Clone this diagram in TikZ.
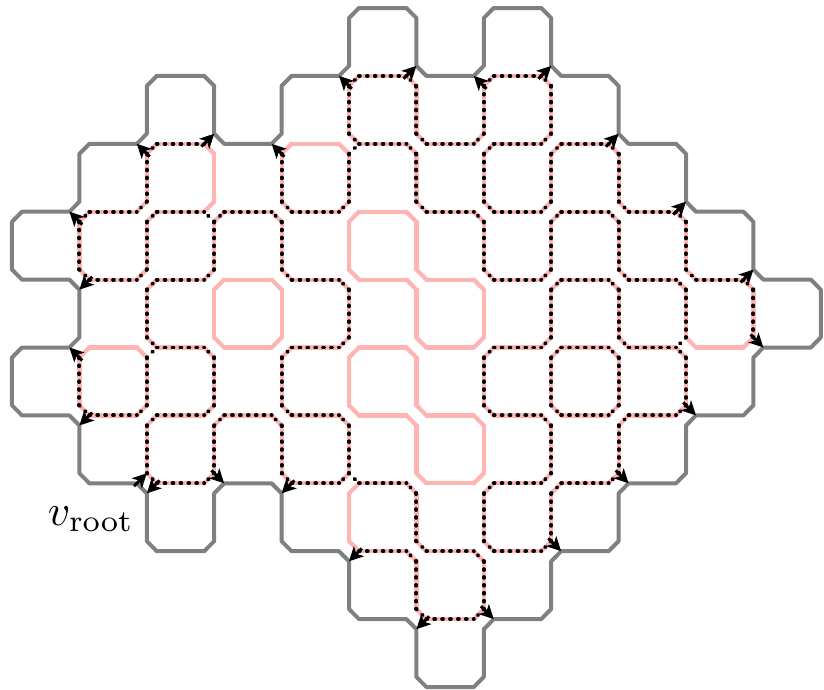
\documentclass[tikz,border=0pt]{standalone}
\usetikzlibrary{arrows.meta,calc}
\definecolor{lpink}{RGB}{255,180,180}
\def\dd{0.148}
\newcommand\hseg[3]{\draw[#3] ({#1+\dd},#2) -- ({#1+1-\dd},#2);}
\newcommand\vseg[3]{\draw[#3] (#1,{#2+\dd}) -- (#1,{#2+1-\dd});}
\newcommand\chamf[5]{\draw[#5] (#1,{#2+(#4)*\dd}) -- ({#1+(#3)*\dd},#2);}
\begin{document}
\begin{tikzpicture}[x=67.4pt,y=-67.9pt,
  pinkline/.style={draw=lpink,line width=4.2pt,line cap=round},
  grayline/.style={draw=gray,line width=4pt,line cap=round,line join=round},
  dotline/.style={draw=black,line width=3.9pt,line cap=round,dash pattern=on 0.8pt off 7.1pt},
  arr/.style={draw=black,line width=3pt,-{Stealth[length=14pt,width=14pt,inset=3.5pt]},shorten <=-4pt}]
\useasboundingbox (-0.17804,-0.11782) rectangle (12.0475,10.0295);

% ---- pink: all interior edges
\foreach \j/\is in {1/{5,7},2/{2,4,5,6,7,8},3/{1,2,3,4,5,6,7,8,9},4/{1,2,3,4,5,6,7,8,9,10},5/{1,2,3,4,5,6,7,8,9,10},6/{1,2,3,4,5,6,7,8,9},7/{2,4,5,6,7,8},8/{5,6,7},9/{6}}
  {\foreach \i in \is {\hseg{\i}{\j}{pinkline}}}
\foreach \j/\is in {1/{5,6,7,8},2/{2,3,4,5,6,7,8,9},3/{1,2,3,4,5,6,7,8,9,10},4/{2,3,4,5,6,7,8,9,10,11},5/{1,2,3,4,5,6,7,8,9,10},6/{2,3,4,5,6,7,8,9},7/{5,6,7,8},8/{6,7}}
  {\foreach \i in \is {\vseg{\i}{\j}{pinkline}}}
% ---- pink: all interior chamfers
\foreach \i/\j/\sx/\sy in {5/1/1/1,6/1/-1/1,7/1/1/1,8/1/-1/1,
 2/2/1/1,3/2/-1/1,4/2/1/1,5/2/1/-1,5/2/-1/1,6/2/1/-1,6/2/-1/1,7/2/-1/-1,7/2/1/1,8/2/-1/-1,8/2/1/1,9/2/-1/1,
 1/3/1/1,2/3/-1/-1,2/3/1/1,3/3/-1/-1,3/3/1/1,4/3/1/-1,4/3/-1/1,5/3/-1/-1,5/3/1/1,6/3/1/-1,6/3/-1/1,7/3/1/-1,7/3/-1/1,8/3/-1/-1,8/3/1/1,9/3/1/-1,9/3/-1/1,10/3/-1/1,
 1/4/1/-1,2/4/-1/-1,2/4/1/1,3/4/-1/-1,3/4/1/1,4/4/1/-1,4/4/-1/1,5/4/1/-1,5/4/-1/1,6/4/1/-1,6/4/-1/1,7/4/1/-1,7/4/-1/1,8/4/-1/-1,8/4/1/1,9/4/1/-1,9/4/-1/1,10/4/1/-1,10/4/-1/1,11/4/-1/1,
 1/5/1/1,2/5/1/-1,2/5/-1/1,3/5/1/-1,3/5/-1/1,4/5/-1/-1,4/5/1/1,5/5/-1/-1,5/5/1/1,6/5/1/-1,6/5/-1/1,7/5/-1/-1,7/5/1/1,8/5/-1/-1,8/5/1/1,9/5/1/-1,9/5/-1/1,10/5/1/-1,10/5/-1/1,11/5/-1/-1,
 1/6/1/-1,2/6/-1/-1,2/6/1/1,3/6/-1/-1,3/6/1/1,4/6/1/-1,4/6/-1/1,5/6/1/-1,5/6/-1/1,6/6/1/-1,6/6/-1/1,7/6/1/-1,7/6/-1/1,8/6/1/-1,8/6/-1/1,9/6/-1/-1,9/6/1/1,10/6/-1/-1,
 2/7/1/-1,3/7/-1/-1,4/7/1/-1,5/7/-1/-1,5/7/1/1,6/7/1/-1,6/7/-1/1,7/7/-1/-1,7/7/1/1,8/7/-1/-1,8/7/1/1,9/7/-1/-1,
 5/8/1/-1,6/8/1/-1,6/8/-1/1,7/8/1/-1,7/8/-1/1,8/8/-1/-1,
 6/9/1/-1,7/9/-1/-1}
  {\chamf{\i}{\j}{\sx}{\sy}{pinkline}}

% ---- gray outer boundary
\draw[grayline] ($(5,0)!\dd!(6,0)$)
  \foreach \x/\y [remember=\x as \px (initially 5),remember=\y as \py (initially 0)] in
  {6/0,6/1,7/1,7/0,8/0,8/1,9/1,9/2,10/2,10/3,11/3,11/4,12/4,12/5,11/5,11/6,10/6,10/7,9/7,9/8,8/8,8/9,7/9,7/10,6/10,6/9,5/9,5/8,4/8,4/7,3/7,3/8,2/8,2/7,1/7,1/6,0/6,0/5,1/5,1/4,0/4,0/3,1/3,1/2,2/2,2/1,3/1,3/2,4/2,4/1,5/1,5/0}
  { -- ($(\px,\py)!\dd!(\x,\y)$) -- ($(\x,\y)!\dd!(\px,\py)$) } -- cycle;

% ---- dotted overlay
\foreach \j/\is in {1/{5,7},2/{2,5,6,7,8},3/{1,2,3,4,6,7,8,9},4/{1,2,4,7,8,9,10},5/{2,4,7,8,9},6/{1,2,3,4,7,8,9},7/{2,4,5,7,8},8/{5,6,7},9/{6}}
  {\foreach \i in \is {\hseg{\i}{\j}{dotline}}}
\foreach \j/\is in {1/{5,6,7,8},2/{2,4,5,6,7,8,9},3/{1,2,3,4,7,8,9,10},4/{2,5,8,9,10,11},5/{1,2,3,4,7,8,9,10},6/{2,3,4,5,8,9},7/{6,7,8},8/{6,7}}
  {\foreach \i in \is {\vseg{\i}{\j}{dotline}}}
\foreach \i/\j/\sx/\sy in {5/1/1/1,6/1/-1/1,7/1/1/1,8/1/-1/1,
 2/2/1/1,5/2/1/-1,6/2/1/-1,6/2/-1/1,7/2/-1/-1,7/2/1/1,8/2/-1/-1,8/2/1/1,9/2/-1/1,
 1/3/1/1,2/3/-1/-1,2/3/1/1,3/3/1/1,4/3/1/-1,4/3/-1/1,5/3/-1/-1,6/3/1/-1,7/3/1/-1,7/3/-1/1,8/3/-1/-1,8/3/1/1,9/3/1/-1,9/3/-1/1,10/3/-1/1,
 1/4/1/-1,2/4/-1/-1,2/4/1/1,3/4/-1/-1,4/4/1/-1,5/4/-1/1,7/4/1/-1,8/4/-1/-1,8/4/1/1,9/4/1/-1,9/4/-1/1,10/4/1/-1,10/4/-1/1,11/4/-1/1,
 2/5/1/-1,3/5/-1/1,4/5/1/1,5/5/-1/-1,7/5/1/1,8/5/-1/-1,8/5/1/1,9/5/1/-1,9/5/-1/1,10/5/-1/1,
 1/6/1/-1,2/6/-1/-1,2/6/1/1,3/6/-1/-1,3/6/1/1,4/6/1/-1,4/6/-1/1,5/6/-1/1,7/6/1/-1,8/6/1/-1,8/6/-1/1,9/6/-1/-1,9/6/1/1,10/6/-1/-1,
 2/7/1/-1,3/7/-1/-1,4/7/1/-1,5/7/-1/-1,6/7/-1/1,7/7/1/1,8/7/-1/-1,8/7/1/1,9/7/-1/-1,
 6/8/1/-1,6/8/-1/1,7/8/1/-1,7/8/-1/1,8/8/-1/-1,
 6/9/1/-1,7/9/-1/-1}
  {\chamf{\i}{\j}{\sx}{\sy}{dotline}}
% bridges
\foreach \i/\j/\sx/\sy in {3/3/-1/1,5/2/1/1,2/5/1/1,10/5/-1/-1,5/7/1/-1}
  {\chamf{\i}{\j}{\sx}{\sy}{dotline}}

% ---- arrows at the boundary
\foreach \i/\j in {5/1,7/1,2/2,4/2,1/3,1/5} {\draw[arr] (\i,{\j+\dd}) -- ({\i-\dd},\j);}
\foreach \i/\j in {6/1,8/1,3/2,9/2,10/3,11/4} {\draw[arr] ({\i-\dd},\j) -- (\i,{\j-\dd});}
\foreach \i/\j in {1/4,1/6,2/7,4/7,5/8,6/9} {\draw[arr] ({\i+\dd},\j) -- (\i,{\j+\dd});}
\foreach \i/\j in {11/5,10/6,3/7,9/7,8/8,7/9} {\draw[arr] (\i,{\j-\dd}) -- ({\i+\dd},\j);}
\draw[arr] ({2-\dd},7) -- (2,{7-\dd});

\node[anchor=base,scale=4.35,inner sep=0pt] (vroot) at (1.172,7.614) {$v_{\mathrm{root}}$};
\end{tikzpicture}
\end{document}
